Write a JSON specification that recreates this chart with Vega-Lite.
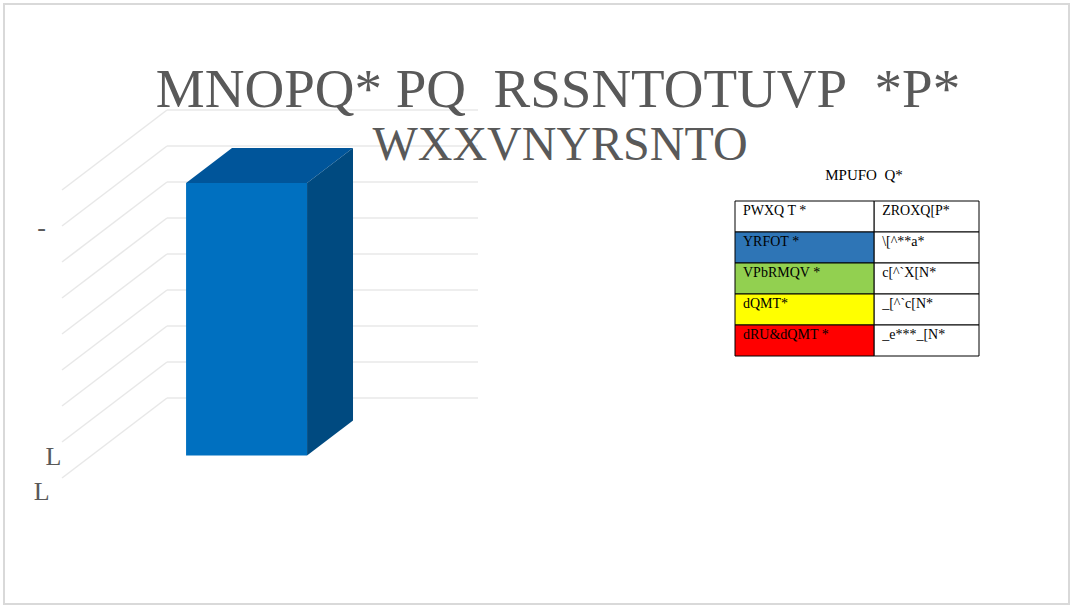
{
"$schema":"https://vega.github.io/schema/vega-lite/v6.json",
"width":1073,"height":608,
"autosize":{"type":"fit","contains":"padding"},
"padding":4,
"background":"#FFFFFF",
"config":{"view":{"stroke":"#D9D9D9","strokeWidth":2}},
"datasets":{
 "bar":[{"category":"L","value":7.57}],
 "corners":[{"category":"L","corner":0},{"category":"L","corner":1},{"category":"L","corner":2},{"category":"L","corner":3}],
 "levels":[{"level":0},{"level":1},{"level":2},{"level":3},{"level":4},{"level":5},{"level":6},{"level":7},{"level":8}],
 "ticks":[{"label":"-","tick":6.944},{"label":"L","tick":0.583},{"label":"L","tick":-0.389}],
 "table":[
  {"r":0,"c":0,"text":"PWXQ T *"},{"r":0,"c":1,"text":"ZROXQ[P*"},
  {"r":1,"c":0,"text":"YRFOT *"},{"r":1,"c":1,"text":"\\[^**a*"},
  {"r":2,"c":0,"text":"VPbRMQV *"},{"r":2,"c":1,"text":"c[^`X[N*"},
  {"r":3,"c":0,"text":"dQMT*"},{"r":3,"c":1,"text":"_[^`c[N*"},
  {"r":4,"c":0,"text":"dRU&dQMT *"},{"r":4,"c":1,"text":"_e***_[N*"}
 ]
},
"layer":[
 {
  "layer":[
   {"data":{"name":"levels"},
    "mark":{"type":"rule","color":"#E8E8E8","strokeWidth":1.5},
    "encoding":{
     "x":{"datum":0,"type":"quantitative","scale":{"domain":[-0.52412,2.90032],"nice":false,"zero":false},"axis":null},
     "x2":{"datum":1},
     "y":{"field":"level","type":"quantitative","scale":{"domain":[-5.7222,10.9444],"nice":false,"zero":false},"axis":null}
    }},
   {"data":{"name":"levels"},
    "transform":[{"calculate":"datum.level-2.2222","as":"yf"}],
    "mark":{"type":"rule","color":"#E8E8E8","strokeWidth":1.5},
    "encoding":{
     "x":{"datum":0,"type":"quantitative","scale":{"domain":[-0.52412,2.90032],"nice":false,"zero":false},"axis":null},
     "x2":{"datum":-0.3376},
     "y":{"field":"level","type":"quantitative","scale":{"domain":[-5.7222,10.9444],"nice":false,"zero":false},"axis":null},
     "y2":{"field":"yf"}
    }},
   {"data":{"name":"bar"},
    "transform":[
     {"calculate":"0.0613","as":"x0"},{"calculate":"0.4503","as":"x1"},
     {"calculate":"-1.5978","as":"y0"},{"calculate":"datum.value-1.5978","as":"y1"}
    ],
    "mark":{"type":"rect","color":"#0070C0"},
    "encoding":{
     "x":{"field":"x0","type":"quantitative","scale":{"domain":[-0.52412,2.90032],"nice":false,"zero":false},"axis":null},
     "x2":{"field":"x1"},
     "y":{"field":"y0","type":"quantitative","scale":{"domain":[-5.7222,10.9444],"nice":false,"zero":false},"axis":null},
     "y2":{"field":"y1"}
    }},
   {"data":{"name":"corners"},
    "transform":[
     {"lookup":"category","from":{"data":{"name":"bar"},"key":"category","fields":["value"]}},
     {"calculate":"[0.0613,0.2091,0.4503,0.5981][datum.corner]","as":"X"},
     {"calculate":"datum.corner==3 ? datum.value-0.6244 : datum.value-1.5978","as":"lo"},
     {"calculate":"datum.corner==0 ? datum.value-1.5978 : datum.value-0.6244","as":"hi"}
    ],
    "mark":{"type":"area","color":"#00559A","interpolate":"linear"},
    "encoding":{
     "x":{"field":"X","type":"quantitative","scale":{"domain":[-0.52412,2.90032],"nice":false,"zero":false},"axis":null},
     "y":{"field":"lo","type":"quantitative","scale":{"domain":[-5.7222,10.9444],"nice":false,"zero":false},"axis":null},
     "y2":{"field":"hi"}
    }},
   {"data":{"name":"corners"},
    "transform":[
     {"filter":"datum.corner<2"},
     {"lookup":"category","from":{"data":{"name":"bar"},"key":"category","fields":["value"]}},
     {"calculate":"[0.4503,0.5981][datum.corner]","as":"X"},
     {"calculate":"[-1.5978,-0.6244][datum.corner]","as":"lo"},
     {"calculate":"datum.corner==0 ? datum.value-1.5978 : datum.value-0.6244","as":"hi"}
    ],
    "mark":{"type":"area","color":"#004A80","interpolate":"linear"},
    "encoding":{
     "x":{"field":"X","type":"quantitative","scale":{"domain":[-0.52412,2.90032],"nice":false,"zero":false},"axis":null},
     "y":{"field":"lo","type":"quantitative","scale":{"domain":[-5.7222,10.9444],"nice":false,"zero":false},"axis":null},
     "y2":{"field":"hi"}
    }},
   {"data":{"name":"ticks"},
    "transform":[
     {"calculate":"datum.tick>0 && datum.tick<1 ? -0.365 : -0.403","as":"X"},
     {"calculate":"datum.tick-2.2222","as":"Y"}
    ],
    "mark":{"type":"text","align":"center","baseline":"middle","font":"Liberation Serif","fontSize":26,"color":"#595959"},
    "encoding":{
     "x":{"field":"X","type":"quantitative","scale":{"domain":[-0.52412,2.90032],"nice":false,"zero":false},"axis":null},
     "y":{"field":"Y","type":"quantitative","scale":{"domain":[-5.7222,10.9444],"nice":false,"zero":false},"axis":null},
     "text":{"field":"label"}
    }},
   {"data":{"values":[{}]},
    "mark":{"type":"text","align":"center","baseline":"alphabetic","font":"Liberation Serif","fontSize":55,"color":"#595959","text":"MNOPQ* PQ\u00a0 RSSNTOTUVP\u00a0 *P*"},
    "encoding":{
     "x":{"datum":1.2572,"type":"quantitative","scale":{"domain":[-0.52412,2.90032],"nice":false,"zero":false},"axis":null},
     "y":{"datum":8.083,"type":"quantitative","scale":{"domain":[-5.7222,10.9444],"nice":false,"zero":false},"axis":null}
    }},
   {"data":{"values":[{}]},
    "mark":{"type":"text","align":"center","baseline":"alphabetic","font":"Liberation Serif","fontSize":48,"color":"#595959","text":"WXXVNYRSNTO"},
    "encoding":{
     "x":{"datum":1.2637,"type":"quantitative","scale":{"domain":[-0.52412,2.90032],"nice":false,"zero":false},"axis":null},
     "y":{"datum":6.611,"type":"quantitative","scale":{"domain":[-5.7222,10.9444],"nice":false,"zero":false},"axis":null}
    }},
   {"data":{"values":[{}]},
    "mark":{"type":"text","align":"center","baseline":"alphabetic","font":"Liberation Serif","fontSize":15,"color":"#000000","text":"MPUFO\u00a0 Q*"},
    "encoding":{
     "x":{"datum":2.2412,"type":"quantitative","scale":{"domain":[-0.52412,2.90032],"nice":false,"zero":false},"axis":null},
     "y":{"datum":6.056,"type":"quantitative","scale":{"domain":[-5.7222,10.9444],"nice":false,"zero":false},"axis":null}
    }}
  ]
 },
 {
  "data":{"name":"table"},
  "transform":[{"calculate":"datum.c+1","as":"c2"},{"calculate":"datum.c==0 ? datum.r : 0","as":"swatch"}],
  "layer":[
   {"mark":{"type":"rect","stroke":"#000000","strokeWidth":1},
    "encoding":{
     "x":{"field":"c","type":"quantitative","scale":{"type":"pow","exponent":0.81,"domain":[0,2],"range":[731,975],"nice":false,"zero":false},"axis":null},
     "x2":{"field":"c2"},
     "y":{"field":"r","type":"ordinal","scale":{"domain":[0,1,2,3,4],"range":[197,352],"paddingInner":0,"paddingOuter":0},"axis":null},
     "fill":{"field":"swatch","type":"ordinal","scale":{"domain":[0,1,2,3,4],"range":["#FFFFFF","#2E75B6","#92D050","#FFFF00","#FF0000"]},"legend":null}
    }},
   {"mark":{"type":"text","align":"left","baseline":"alphabetic","dx":8,"dy":14,"font":"Liberation Serif","fontSize":14,"color":"#000000"},
    "encoding":{
     "x":{"field":"c","type":"quantitative","scale":{"type":"pow","exponent":0.81,"domain":[0,2],"range":[731,975],"nice":false,"zero":false},"axis":null},
     "y":{"field":"r","type":"ordinal","bandPosition":0,"scale":{"domain":[0,1,2,3,4],"range":[197,352],"paddingInner":0,"paddingOuter":0},"axis":null},
     "text":{"field":"text"}
    }}
  ]
 }
],
"resolve":{"scale":{"x":"independent","y":"independent"}}
}
